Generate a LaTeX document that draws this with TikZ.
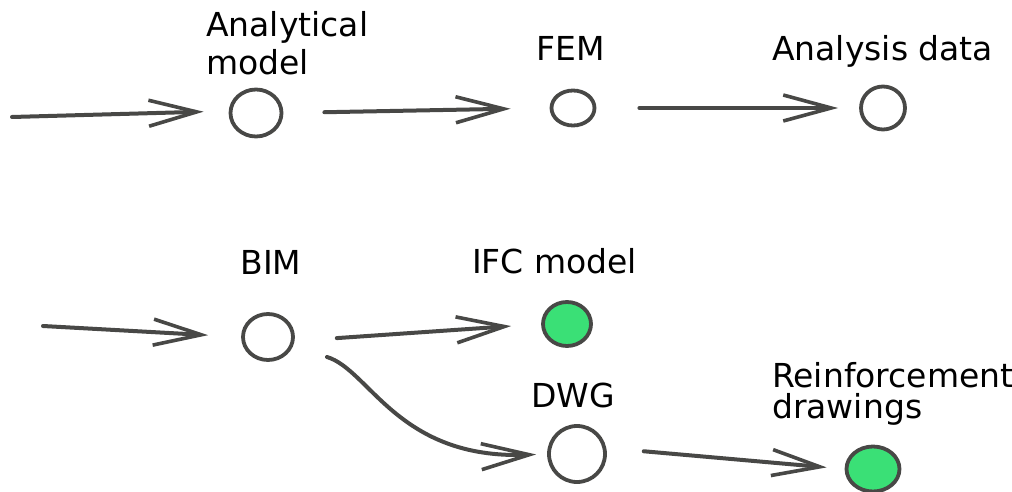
\documentclass[tikz,border=0pt]{standalone}
\usepackage{fontspec}
\setmainfont{DejaVu Sans}
\usetikzlibrary{arrows.meta,shapes.geometric}
\definecolor{ink}{RGB}{72,72,70}
\definecolor{leaf}{RGB}{58,224,118}
\tikzset{
  flow/.style={draw=ink, line width=4pt, line cap=round,
    -{Straight Barb[length=48pt,width=26pt,line width=3.6pt]}},
  state/.style={ellipse, draw=ink, line width=3.8pt, inner sep=0pt},
  done/.style={state, fill=leaf},
  lbl/.style={font=\fontsize{33}{38}\selectfont, inner sep=0pt, text=black, align=left}
}
\begin{document}
\begin{tikzpicture}[x=1pt,y=-1pt]
\useasboundingbox (0,0) rectangle (1012,492);
% nodes
\node[state, minimum width=51pt, minimum height=47pt] (an) at (256,113) {};
\node[state, minimum width=43pt, minimum height=35pt] (fem) at (573,108) {};
\node[state, minimum width=44pt, minimum height=43pt] (ad) at (883,108) {};
\node[state, minimum width=50pt, minimum height=46pt] (bim) at (268,337) {};
\node[done, minimum width=48pt, minimum height=44pt] (ifc) at (567,324) {};
\node[state, minimum width=56pt, minimum height=56pt] (dwg) at (577,454) {};
\node[done, minimum width=53pt, minimum height=45pt] (rd) at (873,469) {};
% labels
\node[lbl, anchor=base west] (tan) at (206,75) {Analytical\\model};
\node[lbl, anchor=base] (tfem) at (571,61) {FEM};
\node[lbl, anchor=base west] (tad) at (772,61) {Analysis data};
\node[lbl, anchor=base] (tbim) at (271,274) {BIM};
\node[lbl, anchor=base west] (tifc) at (472,273) {IFC model};
\node[lbl, anchor=base west] (tdwg) at (531,407) {DWG};
\node[lbl, anchor=base west] (trd) at (772,418) {Reinforcement\\[-7pt]drawings};
% connectors
\coordinate (in1) at (12,117);
\coordinate (in2) at (43,326);
\draw[flow, shorten >=25pt] (in1) -- ([yshift=2pt]an.west);
\draw[flow, shorten <=41pt, shorten >=39pt] (an.east) -- (fem.west);
\draw[flow, shorten <=43pt, shorten >=21pt] (fem.east) -- (ad.west);
\draw[flow, shorten >=33pt] (in2) -- (bim.west);
\draw[flow, shorten <=42pt, shorten >=30pt] ([yshift=-4pt]bim.east) -- (ifc.west);
\draw[flow, shorten >=11pt] ([shift={(59,20)}]bim.center) .. controls +(43,13) and +(-149,6) .. (dwg.west);
\draw[flow, shorten <=37pt, shorten >=18pt] ([yshift=6pt]dwg.east) -- (rd.west);
\end{tikzpicture}
\end{document}
